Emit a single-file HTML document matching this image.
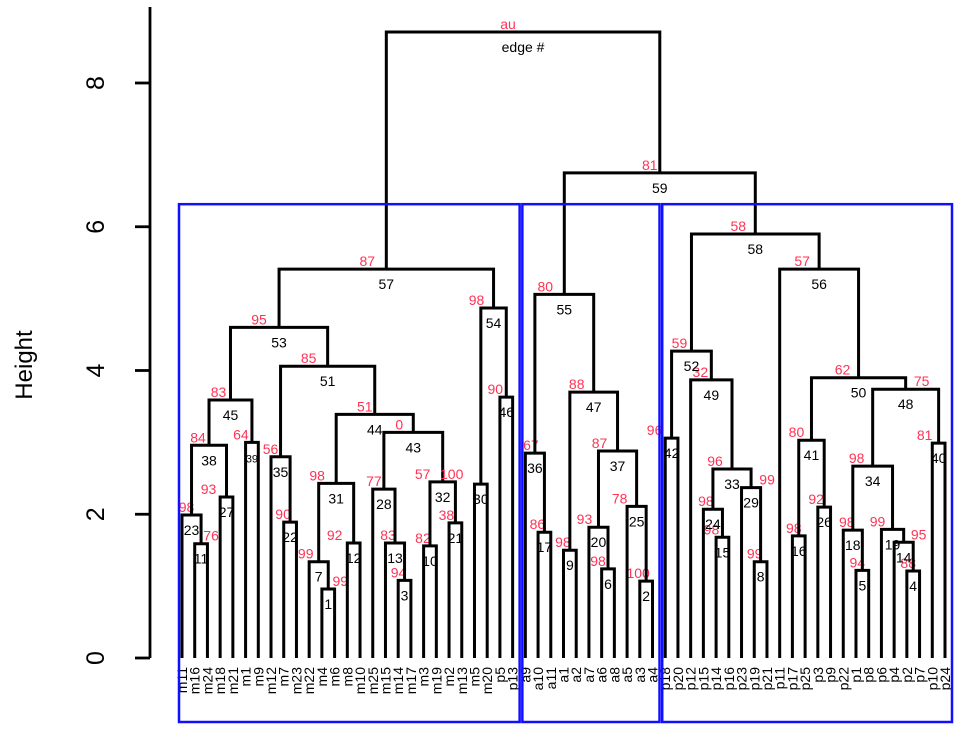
<!DOCTYPE html>
<html><head><meta charset="utf-8"><style>
html,body{margin:0;padding:0;background:#fff;}
svg{display:block;font-family:"Liberation Sans",Arial,sans-serif;}
</style></head><body>
<svg id="chart" width="975" height="737" viewBox="0 0 975 737" xmlns="http://www.w3.org/2000/svg">
<g id="axis"></g>
<text x="0" y="0" transform="translate(32,365) rotate(-90)" text-anchor="middle" font-size="24">Height</text>
<g id="tree"></g>
<g id="boxes"></g>
</svg>
<script>
const leaves = ["m11","m16","m24","m18","m21","m1","m9","m12","m7","m23","m22","m4","m6","m8","m10","m25","m15","m14","m17","m3","m19","m2","m13","m5","m20","p5","p13",
"a9","a10","a11","a1","a2","a7","a6","a8","a5","a3","a4",
"p18","p20","p12","p15","p14","p16","p23","p19","p21","p11","p17","p25","p3","p9","p22","p1","p8","p6","p4","p2","p7","p10","p24"];
const mergeEdges = [1,2,3,4,5,6,7,8,9,10,11,12,13,14,15,16,17,18,19,20,21,22,23,24,25,26,27,28,29,30,31,32,33,34,35,36,37,38,39,40,41,42,43,44,45,46,47,48,49,50,51,52,53,54,55,56,57,58,59,60];
const mergeLeft = ["m4","a3","m14","p2","p1","a6","m22","p19","a1","m3","m16","m8","m15","p4","p14","p17","a10","p22","p6","a7","m2","m7","m11","p15","a5","p3","m18","m25","p23","m5","e7","e10","e24","e18","m12","a9","e20","e23","m1","p10","e16","p18","e28","e31","e38","p5","e9","e34","p12","e41","e35","e42","e45","e30","e36","p11","e53","e52","e55","e57"];
const mergeRight = ["m6","a4","m17","p7","p8","a8","e1","p21","a2","m19","m24","m10","e3","e4","p16","p25","a11","e5","e14","e6","m13","m23","e11","e15","e2","p9","m21","e13","e8","m20","e12","e21","e29","e19","e22","e17","e25","e27","m9","p24","e26","p20","e32","e43","e39","p13","e37","e40","e33","e48","e44","e49","e51","e46","e47","e50","e54","e56","e58","e59"];
const heights = [0.96,1.07,1.08,1.21,1.22,1.24,1.34,1.34,1.5,1.56,1.59,1.6,1.6,1.61,1.68,1.7,1.75,1.78,1.79,1.82,1.88,1.89,1.99,2.07,2.11,2.1,2.24,2.35,2.37,2.42,2.43,2.45,2.63,2.67,2.8,2.85,2.88,2.96,3.0,2.99,3.03,3.06,3.14,3.39,3.59,3.63,3.7,3.74,3.87,3.9,4.06,4.27,4.6,4.87,5.06,5.41,5.41,5.9,6.75,8.71];
const auValues = ["99","100","94","88","94","98","99","99","98","82","76","92","83","95","98","98","86","98","99","93","38","90","98","98","78","92","93","77","99","","98","57","96","98","56","67","87","84","64","81","80","96","0","51","83","90","88","75","32","62","85","59","95","98","80","57","87","58","81","au"];
const auDx = [12,-8,-6,-5,-5,-10,-13,-6,-7,-7,10,-19,-7,15,-11,-5,-7,-6,-15,-14,-9,-7,-5,-7,-17,-8,-18,-10,16,0,-19,-20,-17,-16,-10,-4,-18,-11,-11,-14,-15,-17,-14,-10,-12,-11,-17,16,-11,-16,-19,-12,-20,-17,-19,-17,-19,-17,-10,-15];
const extraEdge = [32]; const extraText = ["100"]; const extraDx = [9];
const yTicks = [0,2,4,6,8];
const clusterStart = ["m11","a9","p18"]; const clusterEnd = ["p13","a4","p24"]; const clusterTop = 6.3;

const NS="http://www.w3.org/2000/svg";
const x0=182, dxLeaf=(945-182)/60;
function xLeaf(i){return x0+i*dxLeaf;}
function yS(h){return 658-71.875*h;}
function mk(tag,attrs,parent,txt){const e=document.createElementNS(NS,tag);for(const k in attrs)e.setAttribute(k,attrs[k]);if(txt!==undefined)e.textContent=txt;parent.appendChild(e);return e;}

const axis=document.getElementById('axis');
const al=mk('line',{x1:150,x2:150,y1:yS(0),y2:7,stroke:'#000','stroke-width':2.8},axis);


yTicks.forEach(v=>{
  const t=mk('line',{x1:135,x2:150,y1:yS(v),y2:yS(v),stroke:'#000','stroke-width':2.8},axis);
  
  
  const l=mk('text',{transform:`translate(104,${yS(v)}) rotate(-90)`,'text-anchor':'middle','font-size':25},axis,String(v));
  
  
});

const tree=document.getElementById('tree');
const pos={};
leaves.forEach((n,i)=>{pos[n]={x:xLeaf(i),h:0};
  const t=mk('text',{transform:`translate(${xLeaf(i)+5},667) rotate(-90)`,'text-anchor':'end','font-size':14},tree,n);
  
  
});
const red='#ff3355';
mergeEdges.forEach((ed,k)=>{
  const a=pos[mergeLeft[k]], b=pos[mergeRight[k]], h=heights[k], y=yS(h);
  const p=mk('path',{d:`M${a.x},${yS(a.h)}V${y}H${b.x}V${yS(b.h)}`,fill:'none',stroke:'#000','stroke-width':3},tree);
  
  
  const cx=(a.x+b.x)/2;
  pos['e'+ed]={x:cx,h:h};
  const lab = ed===60?'edge #':String(ed);
  const t=mk('text',{x:cx,y:y+20,'text-anchor':'middle','font-size':ed===39?11:14},tree,lab);
  
  
  if(auValues[k]!==''){
    const r=mk('text',{x:cx+auDx[k],y:y-3,'text-anchor':'middle','font-size':14,fill:red},tree,auValues[k]);
    
    
  }
});
extraEdge.forEach((ed,i)=>{
  const p=pos['e'+ed];
  const r=mk('text',{x:p.x+extraDx[i],y:yS(p.h)-3,'text-anchor':'middle','font-size':14,fill:red},tree,extraText[i]);
  
  
});
const boxes=document.getElementById('boxes');
clusterStart.forEach((s,i)=>{
  const x1=pos[s].x-3, x2=pos[clusterEnd[i]].x+7;
  const r=mk('rect',{x:x1,y:yS(clusterTop)-1,width:x2-x1,height:722-yS(clusterTop)+1,fill:'none',stroke:'#1010ff','stroke-width':2.5},boxes);
  
  
});
</script>
</body></html>
